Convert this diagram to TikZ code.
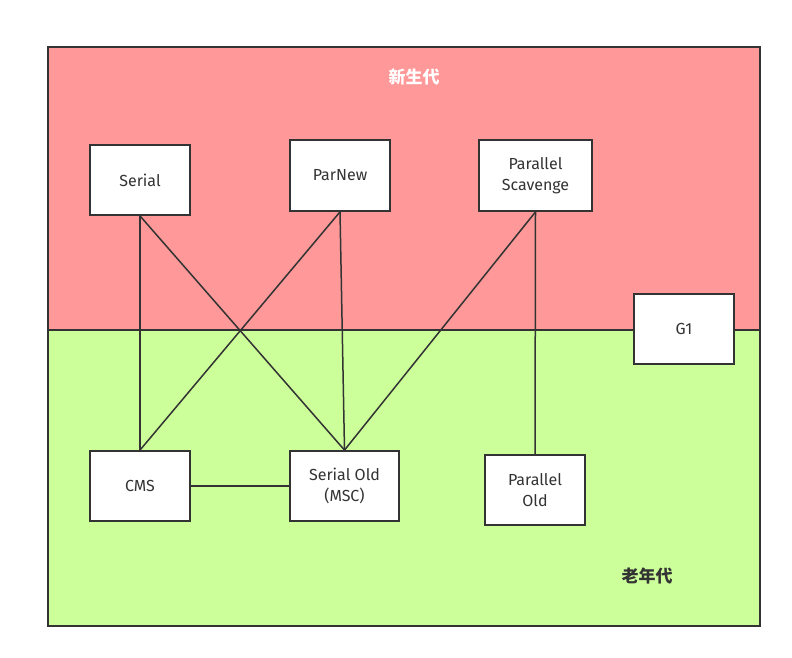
\documentclass[tikz,border=0pt]{standalone}
\usepackage{fontspec}
\setmainfont{Fira Sans}
\newfontfamily\cjk{Noto Sans CJK SC}
\usepackage{xcolor}
\usetikzlibrary{positioning}

\definecolor{young}{HTML}{FF9999}
\definecolor{old}{HTML}{CCFF99}
\definecolor{linec}{HTML}{333333}

\begin{document}
\begin{tikzpicture}[x=1pt,y=-1pt,
  gc/.style={draw=linec, line width=1.8pt, fill=white, minimum width=100pt,
    minimum height=70pt, align=center, text=linec, font=\fontsize{16}{21}\selectfont},
  link/.style={draw=linec, line width=1.5pt}]
\useasboundingbox (0,0) rectangle (792,658);

% oblasti
\fill[young] (48,47) rectangle (760,330);
\fill[old] (48,330) rectangle (760,626);
\draw[linec, line width=1.8pt] (48,47) rectangle (760,626);
\draw[linec, line width=1.8pt] (48,330) -- (760,330);

\node[text=white, font=\cjk\bfseries\fontsize{17}{20}\selectfont] (nyoung) at (414,77) {新生代};
\node[text=linec, font=\cjk\bfseries\fontsize{17}{20}\selectfont] (nold) at (647,576) {老年代};

% sberace
\node[gc] (nserial) at (140,180) {Serial};
\node[gc, minimum height=71pt] (nparnew) at (340,175.5) {ParNew};
\node[gc, minimum width=113pt, minimum height=71pt] (npscav) at (535.5,175.5) {Parallel\\Scavenge};
\node[gc] (ng1) at (684,329) {G1};
\node[gc] (ncms) at (140,486) {CMS};
\node[gc, minimum width=109pt] (nsold) at (344.5,486) {Serial Old\\(MSC)};
\node[gc] (npold) at (535,490) {Parallel\\Old};

% spojeni
\draw[link] (nserial.south) -- (ncms.north);
\draw[link] (nserial.south) -- (nsold.north);
\draw[link] (nparnew.south) -- (ncms.north);
\draw[link] (nparnew.south) -- (nsold.north);
\draw[link] (npscav.south) -- (nsold.north);
\draw[link] (npscav.south) -- (npold.north);
\draw[link] (ncms.east) -- (nsold.west);

\end{tikzpicture}
\end{document}
